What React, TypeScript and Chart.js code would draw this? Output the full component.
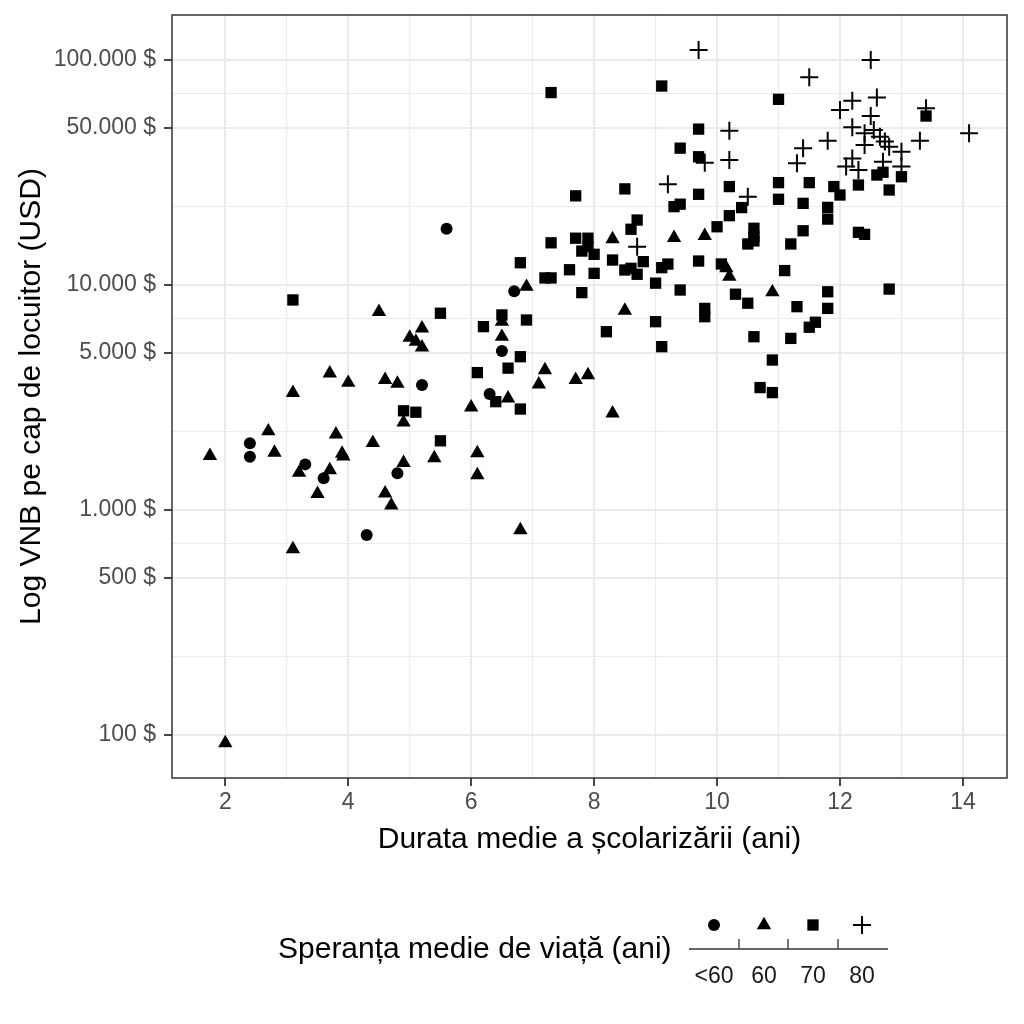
import { useEffect, useRef } from 'react';
import Chart from 'chart.js/auto';

const FONT = "'Liberation Sans', Arial, Helvetica, sans-serif";

// Durata medie a școlarizării (ani), VNB pe cap de locuitor (USD)
const lifeUnder60: [number, number][] = [
    [2.4, 1980], [2.4, 1725], [3.3, 1595], [3.6, 1385], [4.3, 775], [4.8, 1455],
    [5.2, 3590], [5.6, 17800], [6.3, 3280], [6.5, 5090], [6.7, 9380],
];

const life60: [number, number][] = [
    [1.75, 1740], [2.0, 92], [2.7, 2240], [2.8, 1800], [3.1, 3320], [3.1, 670],
    [3.2, 1465], [3.5, 1180], [3.7, 4050], [3.7, 1505], [3.8, 2170], [3.9, 1780],
    [3.92, 1730], [4.0, 3680], [4.4, 1990], [4.5, 7600], [4.6, 3790], [4.6, 1185],
    [4.7, 1050], [4.8, 3650], [4.9, 2450], [4.9, 1620], [5.0, 5840], [5.1, 5600],
    [5.2, 6420], [5.2, 5280], [5.4, 1700], [6.0, 2860], [6.1, 1790], [6.1, 1430],
    [6.5, 6870], [6.5, 5890], [6.6, 3135], [6.8, 815], [6.9, 9830], [7.1, 3620],
    [7.2, 4190], [7.7, 3790], [7.9, 3980], [8.3, 16000], [8.3, 2690], [8.5, 7690],
    [9.3, 16200], [9.8, 16550], [10.15, 11900], [10.2, 10890], [10.9, 9290],
];

const life70: [number, number][] = [
    [3.1, 8580], [5.5, 7490], [5.5, 2030], [4.9, 2760], [5.1, 2720], [6.1, 4080],
    [6.2, 6530], [6.4, 3030], [6.5, 7360], [6.6, 4270], [6.8, 4800], [6.8, 2810],
    [6.8, 12560], [6.9, 6990], [7.2, 10750], [7.3, 10750], [7.3, 71650], [7.3, 15400],
    [7.6, 11690], [7.7, 24900], [7.7, 16140], [7.8, 14150], [7.8, 9250], [7.9, 16140],
    [7.9, 14800], [8.0, 13690], [8.0, 11270], [8.2, 6200], [8.3, 12910], [8.5, 26740],
    [8.5, 11660], [8.6, 11860], [8.6, 17690], [8.7, 19440], [8.7, 11160], [8.8, 12700],
    [9.0, 10190], [9.0, 6870], [9.1, 76620], [9.1, 11940], [9.1, 5320], [9.2, 12390],
    [9.3, 22300], [9.4, 22870], [9.4, 40570], [9.4, 9500], [9.7, 49300], [9.7, 37150],
    [9.7, 25300], [9.7, 12780], [9.8, 7870], [9.8, 7230], [10.0, 18150], [10.07, 12400],
    [10.2, 27380], [10.2, 20330], [10.3, 9100], [10.4, 22080], [10.5, 8300], [10.5, 15220],
    [10.6, 17870], [10.6, 16400], [10.6, 15700], [10.6, 5890], [10.7, 3500], [10.9, 4640],
    [10.9, 3325], [11.0, 66880], [11.0, 28510], [11.0, 24040], [11.1, 11590], [11.2, 15220],
    [11.2, 5790], [11.3, 8010], [11.4, 23060], [11.4, 17420], [11.5, 28510], [11.5, 6490],
    [11.6, 6830], [11.8, 22130], [11.8, 19630], [11.8, 9330], [11.8, 7870], [11.9, 27380],
    [12.0, 25120], [12.3, 27820], [12.3, 17140], [12.4, 16790], [12.6, 30820], [12.7, 31700],
    [12.8, 26440], [12.8, 9590], [13.0, 30280], [13.4, 56360],
];

const life80: [number, number][] = [
    [9.7, 110800], [9.2, 28070], [8.7, 14790], [9.8, 34960], [10.2, 35940], [10.2, 48540],
    [10.5, 24700], [11.3, 34750], [11.4, 40550], [11.5, 83790], [11.8, 43750], [12.0, 59950],
    [12.1, 33590], [12.2, 65890], [12.2, 50220], [12.2, 36540], [12.3, 32460], [12.4, 47230],
    [12.4, 41860], [12.5, 100000], [12.5, 56400], [12.55, 48830], [12.6, 68200], [12.65, 45590],
    [12.7, 35330], [12.73, 43380], [12.8, 41200], [13.0, 39090], [13.0, 33600], [13.3, 43750],
    [13.4, 60980], [14.1, 47230],
];

const xMajor = [2, 4, 6, 8, 10, 12, 14];
const xMinor = [3, 5, 7, 9, 11, 13];
const yMajor = [100, 500, 1000, 5000, 10000, 50000, 100000];
const yMinor = [224, 707, 2236, 7071, 22361, 70711];
const legendLabels = ['<60', '60', '70', '80'];

const fmtUsd = (v: number) =>
    String(Math.round(v)).replace(/\B(?=(\d{3})+(?!\d))/g, '.') + ' $';

const toPoints = (arr: [number, number][]) => arr.map(([x, y]) => ({ x, y }));

const R_CIRCLE = 6;
const R_TRIANGLE = 8.3;
const R_RECT = 8;
const R_CROSS = 9;

const drawSymbol = (ctx: CanvasRenderingContext2D, style: string, x: number, y: number) => {
    ctx.beginPath();
    if (style === 'circle') {
        ctx.arc(x, y, R_CIRCLE, 0, Math.PI * 2);
        ctx.fill();
    } else if (style === 'triangle') {
        const r = R_TRIANGLE;
        ctx.moveTo(x, y - r);
        ctx.lineTo(x + 0.866 * r, y + 0.5 * r);
        ctx.lineTo(x - 0.866 * r, y + 0.5 * r);
        ctx.closePath();
        ctx.fill();
    } else if (style === 'rect') {
        const s = R_RECT * Math.SQRT1_2;
        ctx.rect(x - s, y - s, 2 * s, 2 * s);
        ctx.fill();
    } else {
        const r = R_CROSS;
        ctx.lineWidth = 2;
        ctx.moveTo(x - r, y);
        ctx.lineTo(x + r, y);
        ctx.moveTo(x, y - r);
        ctx.lineTo(x, y + r);
        ctx.stroke();
    }
};

const decorPlugin = {
    id: 'decor',
    afterDatasetsDraw(chart: Chart) {
        const { ctx, chartArea: a } = chart;
        ctx.save();
        ctx.strokeStyle = '#333333';
        ctx.lineWidth = 1.5;
        ctx.strokeRect(a.left, a.top, a.right - a.left, a.bottom - a.top);
        ctx.restore();
    },
    afterDraw(chart: Chart) {
        const { ctx, chartArea: a } = chart;
        ctx.save();
        ctx.fillStyle = '#000000';
        ctx.strokeStyle = '#000000';
        ctx.font = `30px ${FONT}`;
        ctx.textBaseline = 'alphabetic';
        ctx.textAlign = 'center';
        ctx.fillText('Durata medie a școlarizării (ani)', (a.left + a.right) / 2, 848);

        ctx.save();
        ctx.translate(40, (a.top + a.bottom) / 2);
        ctx.rotate(-Math.PI / 2);
        ctx.fillText('Log VNB pe cap de locuitor (USD)', 0, 0);
        ctx.restore();

        // legend (binned)
        ctx.textAlign = 'left';
        ctx.fillText('Speranța medie de viață (ani)', 278, 958);

        ctx.strokeStyle = '#333333';
        ctx.lineWidth = 1.3;
        ctx.beginPath();
        ctx.moveTo(689, 949);
        ctx.lineTo(888, 949);
        [739, 788, 838].forEach((tx) => {
            ctx.moveTo(tx, 939);
            ctx.lineTo(tx, 949);
        });
        ctx.stroke();

        const symX = [714, 764, 813, 862];
        const styles = ['circle', 'triangle', 'rect', 'cross'];
        ctx.fillStyle = '#000000';
        ctx.strokeStyle = '#000000';
        styles.forEach((s, i) => drawSymbol(ctx, s, symX[i], 925));

        ctx.font = `23px ${FONT}`;
        ctx.textAlign = 'center';
        ctx.textBaseline = 'middle';
        ctx.fillStyle = '#1a1a1a';
        legendLabels.forEach((l, i) => ctx.fillText(l, symX[i], 977));
        ctx.restore();
    },
};

export default function App() {
    const canvasRef = useRef<HTMLCanvasElement>(null);
    const chartRef = useRef<Chart | null>(null);

    useEffect(() => {
        if (chartRef.current) {
            chartRef.current.destroy();
        }
        if (!canvasRef.current) return;

        const isXMajor = (v?: number) => v !== undefined && xMajor.includes(v);
        const isYMajor = (v?: number) => v !== undefined && yMajor.includes(v);

        const common = {
            pointBackgroundColor: '#000000',
            pointBorderColor: '#000000',
            pointBorderWidth: 0,
        };

        chartRef.current = new Chart(canvasRef.current, {
            type: 'scatter',
            data: {
                datasets: [
                    { label: '<60', data: toPoints(lifeUnder60), pointStyle: 'circle', pointRadius: R_CIRCLE, ...common },
                    { label: '60', data: toPoints(life60), pointStyle: 'triangle', pointRadius: R_TRIANGLE, ...common },
                    { label: '70', data: toPoints(life70), pointStyle: 'rect', pointRadius: R_RECT, ...common },
                    {
                        label: '80',
                        data: toPoints(life80),
                        pointStyle: 'cross',
                        pointRadius: R_CROSS,
                        pointBorderColor: '#000000',
                        pointBorderWidth: 2,
                    },
                ],
            },
            options: {
                animation: false,
                responsive: false,
                devicePixelRatio: 1,
                events: [],
                font: { family: FONT },
                layout: { padding: { left: 0, top: 15, right: 17, bottom: 0 } },
                plugins: { legend: { display: false }, tooltip: { enabled: false } },
                scales: {
                    x: {
                        type: 'linear',
                        min: 1.133,
                        max: 14.717,
                        afterFit: (scale: any) => {
                            scale.height = 246;
                            scale.paddingLeft = 0;
                            scale.paddingRight = 0;
                        },
                        afterBuildTicks: (scale: any) => {
                            scale.ticks = [...xMajor, ...xMinor]
                                .sort((p, q) => p - q)
                                .map((v) => ({ value: v }));
                        },
                        ticks: {
                            autoSkip: false,
                            maxRotation: 0,
                            padding: 3,
                            color: '#4d4d4d',
                            font: { family: FONT, size: 23 },
                            callback: (v: any) => (xMajor.includes(Number(v)) ? String(v) : ''),
                        },
                        grid: {
                            color: '#ebebeb',
                            lineWidth: (c: any) => (isXMajor(c.tick?.value) ? 2 : 1.1),
                            tickColor: (c: any) => (isXMajor(c.tick?.value) ? '#333333' : 'rgba(0,0,0,0)'),
                            tickWidth: (c: any) => (isXMajor(c.tick?.value) ? 1.8 : 0),
                            tickLength: 8,
                        },
                        border: { display: false },
                    },
                    y: {
                        type: 'logarithmic',
                        min: 64.4,
                        max: 158489,
                        afterFit: (scale: any) => {
                            scale.width = 172;
                            scale.paddingTop = 0;
                            scale.paddingBottom = 0;
                        },
                        afterBuildTicks: (scale: any) => {
                            scale.ticks = [...yMajor, ...yMinor]
                                .sort((p, q) => p - q)
                                .map((v) => ({ value: v }));
                        },
                        ticks: {
                            autoSkip: false,
                            padding: 8,
                            color: '#4d4d4d',
                            font: { family: FONT, size: 23 },
                            callback: (v: any) => (yMajor.includes(Number(v)) ? fmtUsd(Number(v)) : ''),
                        },
                        grid: {
                            color: '#ebebeb',
                            lineWidth: (c: any) => (isYMajor(c.tick?.value) ? 2 : 1.1),
                            tickColor: (c: any) => (isYMajor(c.tick?.value) ? '#333333' : 'rgba(0,0,0,0)'),
                            tickWidth: (c: any) => (isYMajor(c.tick?.value) ? 1.8 : 0),
                            tickLength: 8,
                        },
                        border: { display: false },
                    },
                },
            },
            plugins: [decorPlugin],
        } as any);

        return () => {
            if (chartRef.current) {
                chartRef.current.destroy();
                chartRef.current = null;
            }
        };
    }, []);

    return (
        <div style={{ position: 'fixed', left: 0, top: 0, width: 1024, height: 1024, background: '#ffffff' }}>
            <canvas ref={canvasRef} width={1024} height={1024} />
        </div>
    );
}
